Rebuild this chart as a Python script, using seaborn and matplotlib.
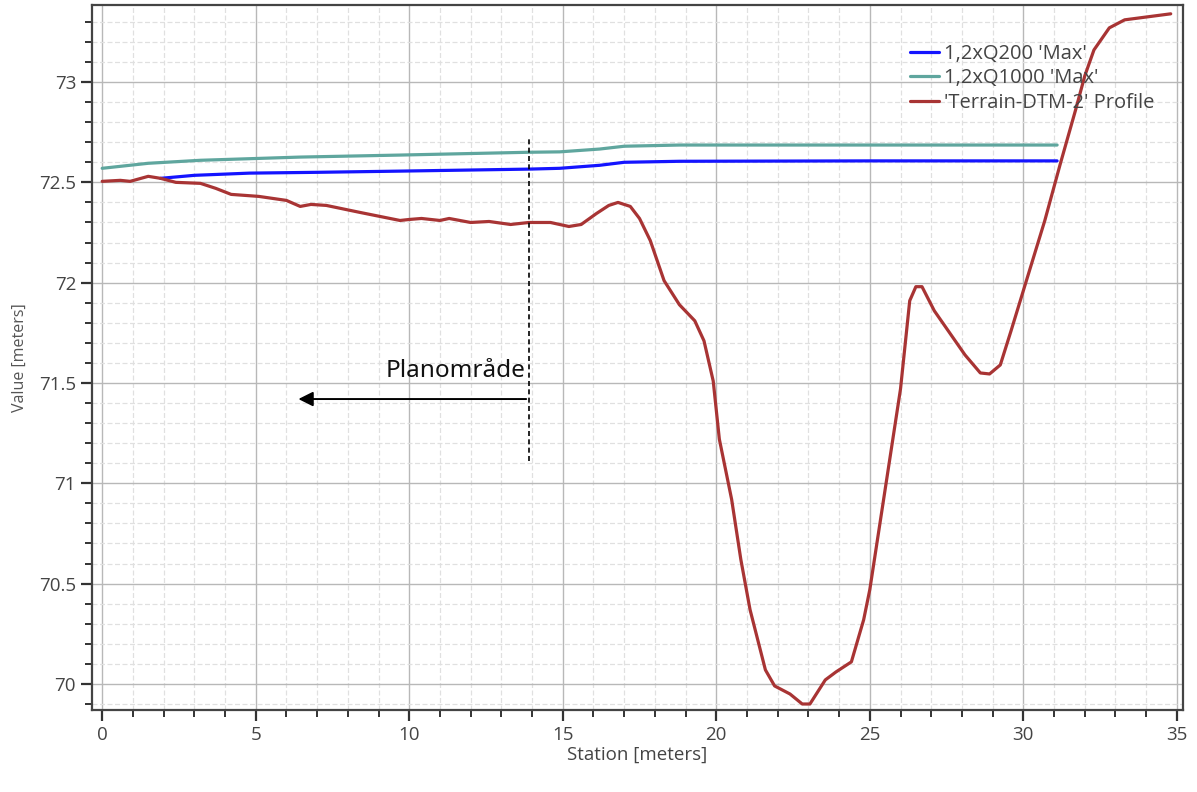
import numpy as np
import pandas as pd
import matplotlib
matplotlib.use("Agg")
import matplotlib.pyplot as plt
import seaborn as sns
from matplotlib.ticker import MultipleLocator

# ---- data ----
terrain_x = [0.0, 0.59, 0.91, 1.5, 1.9, 2.4, 3.2, 3.7, 4.2, 5.1, 6.0, 6.45, 6.8, 7.3, 8.4, 9.7, 10.0,
             10.4, 11.0, 11.3, 12.0, 12.6, 13.3, 13.9, 14.6, 15.2, 15.6, 16.1, 16.5, 16.8, 17.2, 17.5, 17.85,
             18.3, 18.8, 19.3, 19.6, 19.9, 20.1, 20.5, 20.8, 21.1, 21.6, 21.9, 22.4, 22.8, 23.05, 23.55,
             23.9, 24.4, 24.8, 25.0, 25.5, 26.0, 26.3, 26.5, 26.7, 27.1, 27.6, 28.1, 28.6, 28.9, 29.25,
             29.6, 29.9, 30.2, 30.7, 31.2, 31.7, 32.0, 32.3, 32.8, 33.3, 33.8, 34.3, 34.8]
terrain_y = [72.505, 72.51, 72.505, 72.53, 72.52, 72.50, 72.495, 72.47, 72.44, 72.43, 72.41, 72.38, 72.39,
             72.385, 72.35, 72.31, 72.315, 72.32, 72.31, 72.32, 72.30, 72.305, 72.29, 72.30, 72.30, 72.28,
             72.29, 72.345, 72.385, 72.40, 72.38, 72.32, 72.21, 72.01, 71.89, 71.81, 71.71, 71.51, 71.22,
             70.92, 70.62, 70.37, 70.07, 69.99, 69.95, 69.90, 69.90, 70.02, 70.06, 70.11, 70.32, 70.47,
             70.97, 71.47, 71.91, 71.98, 71.98, 71.86, 71.75, 71.64, 71.55, 71.545, 71.59, 71.76, 71.91,
             72.06, 72.31, 72.59, 72.86, 73.03, 73.16, 73.27, 73.31, 73.32, 73.33, 73.34]

q200_x = [1.9, 3.0, 4.8, 7.0, 9.7, 13.9, 14.9, 16.2, 17.0, 18.8, 25.0, 31.1]
q200_y = [72.52, 72.535, 72.546, 72.55, 72.556, 72.566, 72.57, 72.585, 72.60, 72.605, 72.607, 72.607]

q1000_x = [0.0, 1.5, 3.2, 6.45, 9.7, 13.9, 14.9, 16.2, 17.0, 18.8, 25.0, 31.1]
q1000_y = [72.57, 72.595, 72.61, 72.626, 72.636, 72.65, 72.652, 72.666, 72.68, 72.686, 72.686, 72.686]

series_names = ["1,2xQ200 'Max'", "1,2xQ1000 'Max'", "'Terrain-DTM-2' Profile"]
series_colors = ["#1414ff", "#5fa69e", "#a83434"]

annot_text = "Planområde"
annot_x = 13.9
arrow_end_x = 6.3
arrow_y = 71.42
dash_y = (71.11, 72.72)

# ---- frame ----
df = pd.concat([
    pd.DataFrame({"Station": q200_x, "Value": q200_y, "Series": series_names[0]}),
    pd.DataFrame({"Station": q1000_x, "Value": q1000_y, "Series": series_names[1]}),
    pd.DataFrame({"Station": terrain_x, "Value": terrain_y, "Series": series_names[2]}),
], ignore_index=True)

sns.set_theme(style="white")
plt.rcParams['font.family'] = ['Open Sans', 'DejaVu Sans']

fig = plt.figure(figsize=(11.97, 7.92), dpi=100)
ax = fig.add_axes([0.0769, 0.1035, 0.9114, 0.8902])

sns.lineplot(data=df, x="Station", y="Value", hue="Series", hue_order=series_names,
             palette=series_colors, linewidth=2.3, sort=False, estimator=None, ax=ax)
for ln in ax.get_lines():
    ln.set_solid_joinstyle("round")
    ln.set_solid_capstyle("round")

ax.set_xlim(-0.33, 35.2)
ax.set_ylim(69.87, 73.384)
ax.xaxis.set_major_locator(MultipleLocator(5))
ax.xaxis.set_minor_locator(MultipleLocator(1))
ax.yaxis.set_major_locator(MultipleLocator(0.5))
ax.yaxis.set_minor_locator(MultipleLocator(0.1))
ax.yaxis.set_major_formatter(matplotlib.ticker.FuncFormatter(lambda v, p: f"{v:g}"))

ax.grid(which="major", color="#b8b8b8", linewidth=1.0, linestyle="-")
ax.grid(which="minor", color="#e0e0e0", linewidth=0.9, linestyle=(0, (4, 2)))
ax.set_axisbelow(True)

ax.tick_params(which="major", direction="out", length=8, width=1.6, color="#333333",
               labelsize=13.5, labelcolor="#444444", left=True, bottom=True)
ax.tick_params(which="minor", direction="out", length=5, width=1.4, color="#333333",
               left=True, bottom=True)
for s in ax.spines.values():
    s.set_color("#444444")
    s.set_linewidth(1.6)

ax.set_xlabel("Station [meters]", fontsize=13.5, color="#444444", labelpad=1)
ax.set_ylabel("Value [meters]", fontsize=11.5, color="#555555", labelpad=8)

leg = ax.legend(loc="upper right", bbox_to_anchor=(0.985, 0.962), frameon=False, fontsize=14.5,
                handlelength=1.45, handletextpad=0.25, labelspacing=0.22, borderaxespad=0.2)
for t in leg.get_texts():
    t.set_color("#444444")

# annotation
ax.plot([annot_x, annot_x], list(dash_y), color="black", linestyle=(0, (3, 2)), linewidth=1.2)
ax.annotate("", xy=(arrow_end_x, arrow_y), xytext=(annot_x, arrow_y),
            arrowprops=dict(arrowstyle="-|>", color="black", lw=1.4, mutation_scale=22))
ax.text(annot_x - 0.1, 71.5, annot_text, ha="right", va="bottom", fontsize=17.5,
        color="#111111", family=["Noto Sans", "DejaVu Sans"])

fig.savefig("out.png", dpi=100)
